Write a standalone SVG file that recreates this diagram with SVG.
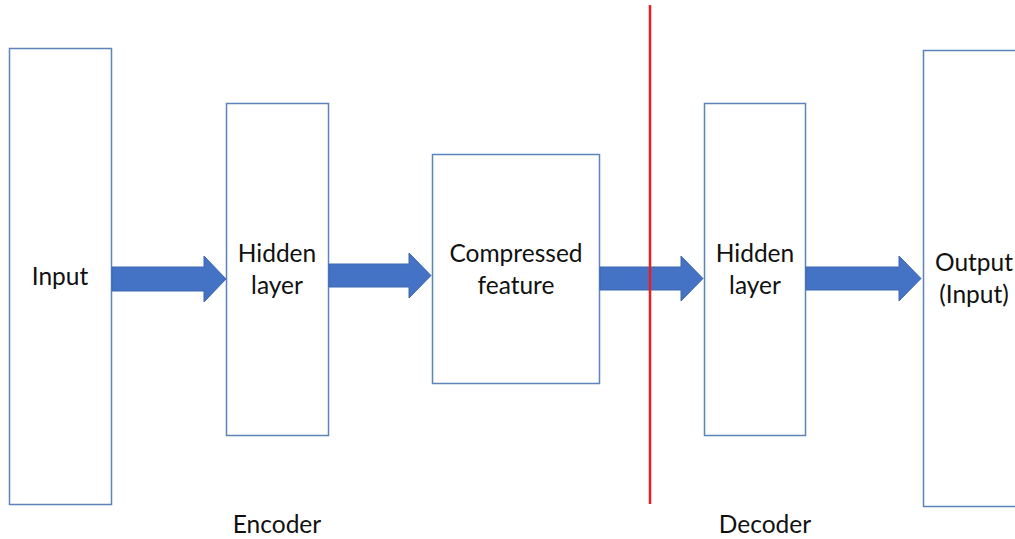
<svg xmlns="http://www.w3.org/2000/svg" width="1015" height="539" viewBox="0 0 1015 539">
  <style>
    .box { fill: #ffffff; stroke: #5b84b8; stroke-width: 1.5; }
    .arrow { fill: #4472c4; stroke: #3d66b0; stroke-width: 1; }
    .label { font-family: Lato, "Open Sans", sans-serif; font-size: 24.5px; fill: #111111; text-anchor: middle; }
    .split { stroke: #ee1c1c; stroke-width: 2.5; }
  </style>
  <rect width="1015" height="539" fill="#ffffff"/>

  <g id="input">
    <rect class="box" x="9.5" y="48.5" width="102" height="456"/>
    <text class="label" x="60" y="285">Input</text>
  </g>

  <g id="hidden-encoder">
    <rect class="box" x="226.5" y="103.5" width="102" height="332"/>
    <text class="label" x="277" y="262">Hidden</text>
    <text class="label" x="277" y="294">layer</text>
  </g>

  <g id="compressed">
    <rect class="box" x="432.5" y="154.5" width="167" height="229"/>
    <text class="label" x="516" y="262">Compressed</text>
    <text class="label" x="516" y="294">feature</text>
  </g>

  <g id="hidden-decoder">
    <rect class="box" x="704.5" y="103.5" width="101" height="332"/>
    <text class="label" x="755" y="262">Hidden</text>
    <text class="label" x="755" y="294">layer</text>
  </g>

  <g id="output">
    <rect class="box" x="923.5" y="50.5" width="100" height="456"/>
    <text class="label" x="974" y="271">Output</text>
    <text class="label" x="974" y="303">(Input)</text>
  </g>

  <g id="connectors">
    <path class="arrow" d="M112,267 H204 V256 L226,279 L204,302 V291 H112 Z"/>
    <path class="arrow" d="M329,264 H409 V253 L431,275.5 L409,298 V287 H329 Z"/>
    <path class="arrow" d="M600,267 H681 V256 L703,278.5 L681,301 V290 H600 Z"/>
    <path class="arrow" d="M806,267 H899 V256 L921,278.5 L899,301 V290 H806 Z"/>
  </g>

  <line class="split" x1="650" y1="5" x2="650" y2="504"/>

  <g id="captions">
    <text class="label" x="277" y="533">Encoder</text>
    <text class="label" x="765" y="533">Decoder</text>
  </g>
</svg>
